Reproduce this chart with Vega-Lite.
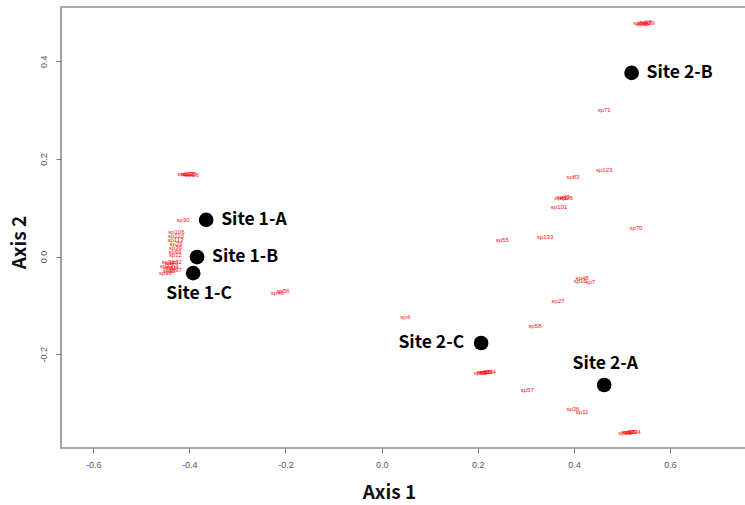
{
  "$schema": "https://vega.github.io/schema/vega-lite/v6.json",
  "width": 685,
  "height": 441,
  "autosize": {"type": "none"},
  "padding": {"left": 61, "top": 7, "right": 0, "bottom": 57},
  "background": "white",
  "config": {
    "view": {"stroke": "#8c8c8c", "strokeWidth": 1.6},
    "axis": {"grid": false, "domain": false, "tickColor": "#777", "tickSize": 5, "labelColor": "#555", "labelFont": "Liberation Sans", "labelFontSize": 9, "titleFont": "Noto Sans CJK KR", "titleFontWeight": "bold", "titleFontSize": 19, "titleColor": "#111"}
  },
  "datasets": {
    "sites": [
      {"label": "Site 1-A", "x": -0.365, "y": 0.075},
      {"label": "Site 1-B", "x": -0.384, "y": -0.001},
      {"label": "Site 1-C", "x": -0.392, "y": -0.034},
      {"label": "Site 2-A", "x": 0.463, "y": -0.263},
      {"label": "Site 2-B", "x": 0.52, "y": 0.376},
      {"label": "Site 2-C", "x": 0.207, "y": -0.177}
    ],
    "species": [
      {"label": "sp14", "x": 0.537, "y": 0.478},
      {"label": "sp15", "x": 0.543, "y": 0.476},
      {"label": "sp18", "x": 0.549, "y": 0.48},
      {"label": "sp19", "x": 0.555, "y": 0.478},
      {"label": "sp20", "x": 0.546, "y": 0.479},
      {"label": "sp21", "x": -0.411, "y": 0.169},
      {"label": "sp24", "x": -0.405, "y": 0.169},
      {"label": "sp25", "x": -0.399, "y": 0.17},
      {"label": "sp26", "x": -0.394, "y": 0.168},
      {"label": "sp22", "x": -0.402, "y": 0.17},
      {"label": "sp30", "x": -0.413, "y": 0.075},
      {"label": "sp106", "x": -0.427, "y": 0.05},
      {"label": "sp110", "x": -0.428, "y": 0.042},
      {"label": "sp113", "x": -0.429, "y": 0.034},
      {"label": "sp29", "x": -0.428, "y": 0.026},
      {"label": "sp39", "x": -0.429, "y": 0.018},
      {"label": "sp99", "x": -0.43, "y": 0.009},
      {"label": "sp12", "x": -0.429, "y": 0.003},
      {"label": "sp31", "x": -0.444, "y": -0.011},
      {"label": "sp32", "x": -0.429, "y": -0.011},
      {"label": "sp33", "x": -0.448, "y": -0.019},
      {"label": "sp34", "x": -0.436, "y": -0.021},
      {"label": "sp35", "x": -0.442, "y": -0.03},
      {"label": "sp37", "x": -0.429, "y": -0.027},
      {"label": "sp38", "x": -0.45, "y": -0.034},
      {"label": "sp40", "x": -0.437, "y": -0.014},
      {"label": "sp41", "x": -0.44, "y": -0.024},
      {"label": "sp56", "x": -0.205, "y": -0.07},
      {"label": "sp46", "x": -0.217, "y": -0.075},
      {"label": "sp71", "x": 0.463, "y": 0.3},
      {"label": "sp123", "x": 0.463, "y": 0.177},
      {"label": "sp83", "x": 0.398, "y": 0.163},
      {"label": "sp42", "x": 0.373, "y": 0.12},
      {"label": "sp28", "x": 0.384, "y": 0.12},
      {"label": "sp43", "x": 0.378, "y": 0.121},
      {"label": "sp101", "x": 0.369, "y": 0.102},
      {"label": "sp70", "x": 0.529, "y": 0.059},
      {"label": "sp55", "x": 0.251, "y": 0.034},
      {"label": "sp133", "x": 0.34, "y": 0.04},
      {"label": "sp48", "x": 0.417, "y": -0.044},
      {"label": "sp16", "x": 0.413, "y": -0.05},
      {"label": "sp7", "x": 0.434, "y": -0.052},
      {"label": "sp27", "x": 0.367, "y": -0.091},
      {"label": "sp4", "x": 0.049, "y": -0.124},
      {"label": "sp58", "x": 0.319, "y": -0.142},
      {"label": "sp61", "x": 0.205, "y": -0.238},
      {"label": "sp62", "x": 0.211, "y": -0.236},
      {"label": "sp63", "x": 0.218, "y": -0.236},
      {"label": "sp64", "x": 0.224, "y": -0.237},
      {"label": "sp65", "x": 0.214, "y": -0.237},
      {"label": "sp57", "x": 0.303, "y": -0.273},
      {"label": "sp36", "x": 0.398, "y": -0.312},
      {"label": "sp11", "x": 0.417, "y": -0.318},
      {"label": "sp91", "x": 0.506, "y": -0.361},
      {"label": "sp92", "x": 0.512, "y": -0.359},
      {"label": "sp93", "x": 0.519, "y": -0.359},
      {"label": "sp94", "x": 0.525, "y": -0.36},
      {"label": "sp95", "x": 0.515, "y": -0.36}
    ]
  },
  "encoding": {
    "x": {"field": "x", "type": "quantitative", "scale": {"domain": [-0.667, 0.758], "nice": false, "zero": false},
      "axis": {"values": [-0.6, -0.4, -0.2, 0, 0.2, 0.4, 0.6], "labelExpr": "replace(format(datum.value, '.1f'), '\u2212', '-')", "labelPadding": 7, "title": "Axis 1", "titleX": 328, "titleY": 44, "titleBaseline": "middle", "titleAlign": "center", "titleAnchor": null}},
    "y": {"field": "y", "type": "quantitative", "scale": {"domain": [-0.392, 0.511], "nice": false, "zero": false},
      "axis": {"values": [-0.2, 0, 0.2, 0.4], "labelExpr": "replace(format(datum.value, '.1f'), '\u2212', '-')", "labelAngle": -90, "labelAlign": "center", "labelBaseline": "bottom", "labelPadding": 8, "title": "Axis 2", "titleX": -42, "titleY": 235, "titleAngle": -90, "titleBaseline": "middle", "titleAlign": "center", "titleAnchor": null}}
  },
  "layer": [
    {"data": {"name": "species"}, "mark": {"type": "text", "fontSize": 6, "font": "Liberation Sans", "color": "#ff1010"}, "encoding": {"text": {"field": "label"}}},
    {"data": {"name": "sites"}, "mark": {"type": "circle", "size": 215, "color": "black", "opacity": 1}},
    {"data": {"name": "sites"}, "transform": [{"filter": "indexof(['Site 1-A','Site 1-B','Site 2-B'], datum.label) >= 0"}],
      "mark": {"type": "text", "align": "left", "baseline": "middle", "dx": 15, "font": "Noto Sans CJK KR", "fontWeight": "bold", "fontSize": 17.5, "color": "black"}, "encoding": {"text": {"field": "label"}}},
    {"data": {"name": "sites"}, "transform": [{"filter": "datum.label == 'Site 2-C'"}],
      "mark": {"type": "text", "align": "right", "baseline": "middle", "dx": -17, "font": "Noto Sans CJK KR", "fontWeight": "bold", "fontSize": 17.5, "color": "black"}, "encoding": {"text": {"field": "label"}}},
    {"data": {"name": "sites"}, "transform": [{"filter": "datum.label == 'Site 1-C'"}],
      "mark": {"type": "text", "align": "center", "baseline": "middle", "dx": 6, "dy": 21, "font": "Noto Sans CJK KR", "fontWeight": "bold", "fontSize": 17.5, "color": "black"}, "encoding": {"text": {"field": "label"}}},
    {"data": {"name": "sites"}, "transform": [{"filter": "datum.label == 'Site 2-A'"}],
      "mark": {"type": "text", "align": "center", "baseline": "middle", "dx": 1, "dy": -21, "font": "Noto Sans CJK KR", "fontWeight": "bold", "fontSize": 17.5, "color": "black"}, "encoding": {"text": {"field": "label"}}}
  ]
}
